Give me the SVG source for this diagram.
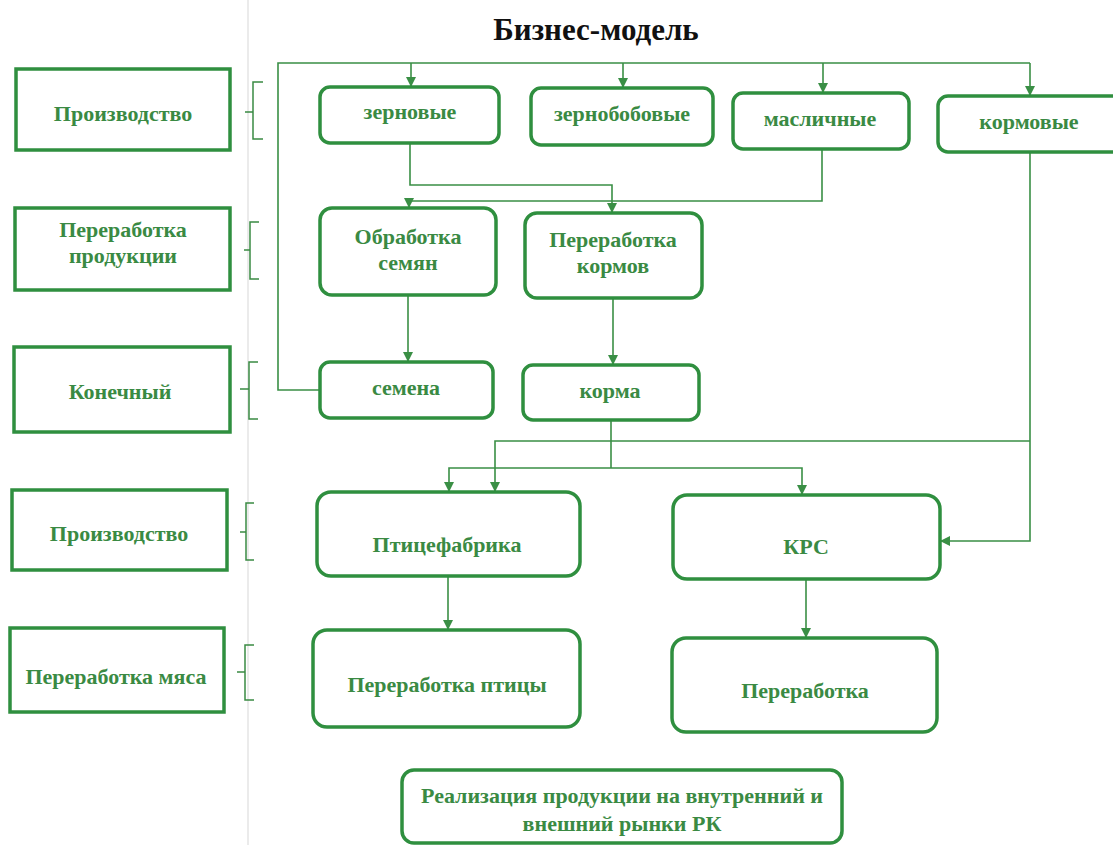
<svg xmlns="http://www.w3.org/2000/svg" width="1113" height="845" viewBox="0 0 1113 845">
<defs>
<style>
.lbl{fill:#fff;stroke:#2f8f3f;stroke-width:3.5}
.nd{fill:#fff;stroke:#2f8f3f;stroke-width:3.5}
.t{font-family:"Liberation Serif","Times New Roman",serif;font-weight:bold;fill:#3a8a43;text-anchor:middle;font-size:22px}
.br{fill:none;stroke:#3a8a43;stroke-width:1.5}
.c{fill:none;stroke:#3a8f45;stroke-width:1.6}
.ca{fill:none;stroke:#3a8f45;stroke-width:1.6;marker-end:url(#ah)}
</style>
<marker id="ah" viewBox="0 0 10 10" refX="10" refY="5" markerWidth="11" markerHeight="10" orient="auto" markerUnits="userSpaceOnUse">
<path d="M0,0 L10,5 L0,10 z" fill="#3a8f45"/>
</marker>
</defs>
<rect width="1113" height="845" fill="#fff"/>
<line x1="248" y1="0" x2="248" y2="845" stroke="#e4e4e4" stroke-width="1.5"/>
<text x="596" y="40" font-family="Liberation Serif, serif" font-weight="bold" font-size="31" text-anchor="middle" fill="#111">Бизнес-модель</text>

<g id="labels">
<g id="lbl1"><rect class="lbl" x="16" y="69" width="214" height="81"/><text class="t" x="123" y="121">Производство</text></g>
<g id="lbl2"><rect class="lbl" x="15" y="208" width="215" height="82"/><text class="t" x="123" y="237">Переработка</text><text class="t" x="123" y="263">продукции</text></g>
<g id="lbl3"><rect class="lbl" x="14" y="347" width="216" height="85"/><text class="t" x="120" y="399">Конечный</text></g>
<g id="lbl4"><rect class="lbl" x="12" y="490" width="215" height="80"/><text class="t" x="119" y="541">Производство</text></g>
<g id="lbl5"><rect class="lbl" x="10" y="628" width="214" height="84"/><text class="t" x="116" y="684">Переработка мяса</text></g>
</g>

<g id="brackets">
<path class="br" d="M263,82 H253 V139 H263 M245,112 H253"/>
<path class="br" d="M259,222 H250 V279 H259 M244,250 H250"/>
<path class="br" d="M258,362 H249 V419 H258 M240,389 H249"/>
<path class="br" d="M254,503 H246 V560 H254 M240,532 H246"/>
<path class="br" d="M254,645 H245 V700 H254 M237,672 H245"/>
</g>

<g id="connectors">
<path class="c" d="M320,390 H278 V63 H1030"/>
<path class="ca" d="M411,63 V87"/>
<path class="ca" d="M623,63 V88"/>
<path class="ca" d="M823,63 V93"/>
<path class="ca" d="M1030,63 V96"/>
<path class="ca" d="M410,143 V185 H612 V213"/>
<path class="ca" d="M822,149 V201 H409 V208"/>
<path class="ca" d="M408,295 V362"/>
<path class="ca" d="M613,298 V365"/>
<path class="c" d="M611,420 V468"/>
<path class="ca" d="M611,468 H449 V492"/>
<path class="ca" d="M611,468 H802 V495"/>
<path class="ca" d="M1030,152 V541 H940"/>
<path class="ca" d="M1030,441 H495 V492"/>
<path class="ca" d="M448,576 V630"/>
<path class="ca" d="M806,579 V638"/>
</g>

<g id="n-zernovye"><rect class="nd" x="320" y="87" width="179" height="56" rx="10"/><text class="t" x="410" y="119">зерновые</text></g>
<g id="n-zernobobovye"><rect class="nd" x="531" y="88" width="182" height="57" rx="10"/><text class="t" x="622" y="121">зернобобовые</text></g>
<g id="n-maslichnye"><rect class="nd" x="733" y="93" width="176" height="56" rx="10"/><text class="t" x="820" y="126">масличные</text></g>
<g id="n-kormovye"><rect class="nd" x="938" y="96" width="185" height="56" rx="10"/><text class="t" x="1029" y="129">кормовые</text></g>
<g id="n-obrabotka"><rect class="nd" x="320" y="208" width="176" height="87" rx="12"/><text class="t" x="408" y="244">Обработка</text><text class="t" x="408" y="270">семян</text></g>
<g id="n-pererabotka-kormov"><rect class="nd" x="525" y="213" width="177" height="85" rx="12"/><text class="t" x="613" y="247">Переработка</text><text class="t" x="613" y="273">кормов</text></g>
<g id="n-semena"><rect class="nd" x="320" y="362" width="173" height="56" rx="10"/><text class="t" x="406" y="395">семена</text></g>
<g id="n-korma"><rect class="nd" x="523" y="365" width="176" height="55" rx="10"/><text class="t" x="610" y="398">корма</text></g>
<g id="n-ptitsefabrika"><rect class="nd" x="317" y="492" width="263" height="84" rx="14"/><text class="t" x="447" y="552">Птицефабрика</text></g>
<g id="n-krs"><rect class="nd" x="673" y="495" width="267" height="84" rx="14"/><text class="t" x="806" y="554">КРС</text></g>
<g id="n-pererabotka-ptitsy"><rect class="nd" x="313" y="630" width="267" height="97" rx="14"/><text class="t" x="447" y="692">Переработка птицы</text></g>
<g id="n-pererabotka"><rect class="nd" x="672" y="638" width="265" height="94" rx="14"/><text class="t" x="805" y="698">Переработка</text></g>
<g id="n-realizatsiya"><rect class="nd" x="402" y="770" width="440" height="73" rx="12"/><text class="t" x="622" y="803">Реализация продукции на внутренний и</text><text class="t" x="622" y="831">внешний рынки РК</text></g>
</svg>
